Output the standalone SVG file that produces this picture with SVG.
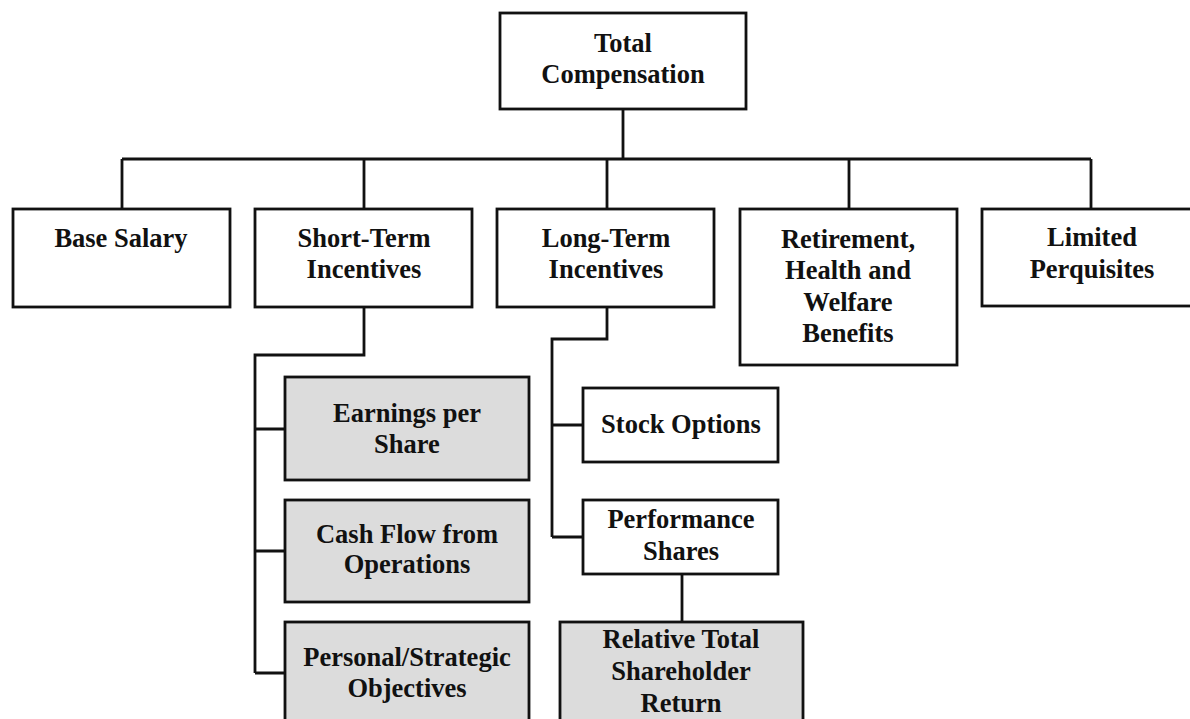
<svg xmlns="http://www.w3.org/2000/svg" width="1190" height="719" viewBox="0 0 1190 719">
<style>
.box{fill:#ffffff;stroke:#111111;stroke-width:2.8}
.gray{fill:#dcdcdc;stroke:#111111;stroke-width:2.8}
.conn{fill:none;stroke:#111111;stroke-width:2.8;stroke-linejoin:miter}
text{font-family:"Liberation Serif","Times New Roman",serif;font-weight:bold;font-size:26.5px;fill:#111111;text-anchor:middle}
</style>
<rect width="1190" height="719" fill="#ffffff"/>
<g id="connectors">
<path class="conn" d="M623,109 V159 M122,159 H1091 M122,159 V209 M364,159 V209 M607,159 V209 M849,159 V209 M1091,159 V209"/>
<path class="conn" d="M364,307 V355 H255 V673 M255,429 H285 M255,551 H285 M255,673 H285"/>
<path class="conn" d="M607,307 V339 H552 V537 M552,425 H583 M552,537 H583"/>
<path class="conn" d="M682,574 V622"/>
</g>
<g id="total"><rect class="box" x="500" y="13" width="246" height="96"/><text x="623" y="52">Total</text><text x="623" y="83">Compensation</text></g>
<g id="base"><rect class="box" x="13" y="209" width="217" height="98"/><text x="121" y="247">Base Salary</text></g>
<g id="short"><rect class="box" x="255" y="209" width="217" height="98"/><text x="364" y="247">Short-Term</text><text x="364" y="278">Incentives</text></g>
<g id="long"><rect class="box" x="497" y="209" width="217" height="98"/><text x="606" y="247">Long-Term</text><text x="606" y="278">Incentives</text></g>
<g id="retirement"><rect class="box" x="740" y="209" width="217" height="156"/><text x="848" y="248">Retirement,</text><text x="848" y="279">Health and</text><text x="848" y="311">Welfare</text><text x="848" y="342">Benefits</text></g>
<g id="perqs"><rect class="box" x="982" y="209" width="230" height="97"/><text x="1092" y="246">Limited</text><text x="1092" y="278">Perquisites</text></g>
<g id="eps"><rect class="gray" x="285" y="377" width="244" height="103"/><text x="407" y="422">Earnings per</text><text x="407" y="453">Share</text></g>
<g id="cashflow"><rect class="gray" x="285" y="500" width="244" height="102"/><text x="407" y="543">Cash Flow from</text><text x="407" y="573">Operations</text></g>
<g id="personal"><rect class="gray" x="285" y="622" width="244" height="120"/><text x="407" y="666">Personal/Strategic</text><text x="407" y="697">Objectives</text></g>
<g id="stock"><rect class="box" x="583" y="388" width="195" height="74"/><text x="681" y="433">Stock Options</text></g>
<g id="perf"><rect class="box" x="583" y="500" width="195" height="74"/><text x="681" y="528">Performance</text><text x="681" y="560">Shares</text></g>
<g id="rtsr"><rect class="gray" x="560" y="622" width="243" height="120"/><text x="681" y="648">Relative Total</text><text x="681" y="680">Shareholder</text><text x="681" y="712">Return</text></g>
</svg>
